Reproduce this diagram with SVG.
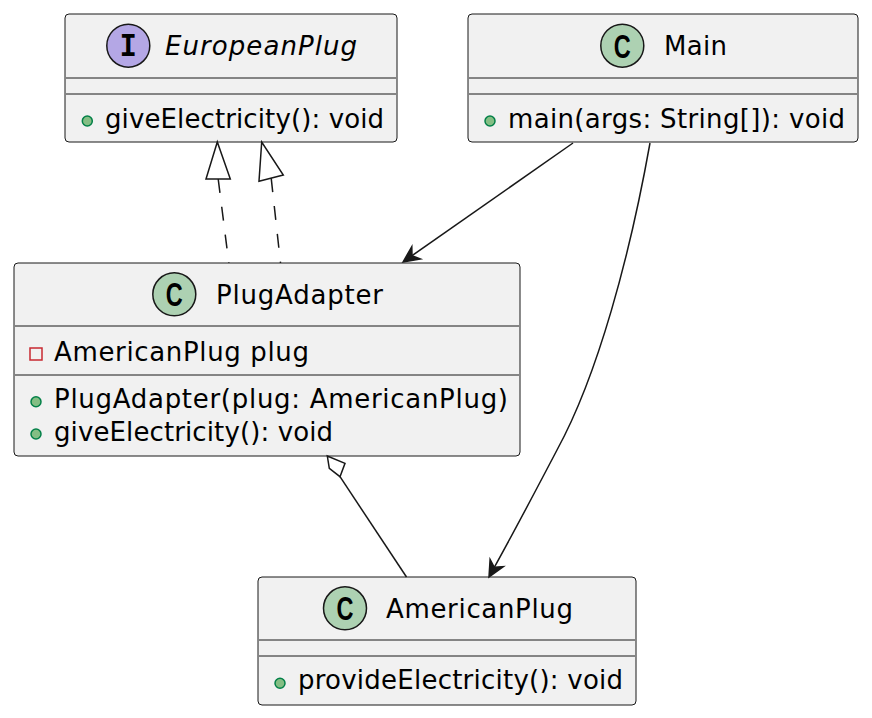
<svg xmlns="http://www.w3.org/2000/svg" width="872" height="718" viewBox="0 0 872 718">
<style>
.box{fill:#F1F1F1;stroke:#181818;stroke-width:1}
.sep{stroke:#181818;stroke-width:1}
.t{font-family:"DejaVu Sans",sans-serif;font-size:26px;fill:#000}
.it{font-style:italic}
.cc{fill:#ADD1B2;stroke:#181818;stroke-width:1.5}
.ic{fill:#B4A7E5;stroke:#181818;stroke-width:1.5}
.glyph{font-family:"Liberation Sans",sans-serif;font-weight:bold;font-size:33px;fill:#000}
.pub{fill:#84BE84;stroke:#038048;stroke-width:1.5}
.priv{fill:none;stroke:#C82930;stroke-width:1.5}
.ln{fill:none;stroke:#181818;stroke-width:1.5}
.dash{stroke-dasharray:14,14}
.head{fill:#181818;stroke:#181818;stroke-width:1.5;stroke-linejoin:miter}
.open{fill:none;stroke:#181818;stroke-width:1.5}
</style>
<rect width="872" height="718" fill="#FFFFFF"/>

<g id="EuropeanPlug">
<rect class="box" x="65" y="14" width="332" height="128" rx="4"/>
<circle class="ic" cx="128.3" cy="45.7" r="21.5"/>
<text class="glyph" x="128.3" y="56" text-anchor="middle" textLength="17" lengthAdjust="spacingAndGlyphs" style="font-family:'Liberation Mono',monospace;font-size:34px">I</text>
<text class="t it" x="165" y="55" textLength="192" lengthAdjust="spacing">EuropeanPlug</text>
<line class="sep" x1="66" y1="78" x2="396" y2="78"/>
<line class="sep" x1="66" y1="94" x2="396" y2="94"/>
<circle class="pub" cx="87.3" cy="121" r="5"/>
<text class="t" x="105" y="128" textLength="279" lengthAdjust="spacing">giveElectricity(): void</text>
</g>

<g id="Main">
<rect class="box" x="468" y="14" width="390" height="128" rx="4"/>
<circle class="cc" cx="622.3" cy="45.7" r="21.5"/>
<text class="glyph" x="622.3" y="57.5" text-anchor="middle" textLength="17" lengthAdjust="spacingAndGlyphs">C</text>
<text class="t" x="664" y="55" textLength="63" lengthAdjust="spacing">Main</text>
<line class="sep" x1="469" y1="78" x2="857" y2="78"/>
<line class="sep" x1="469" y1="94" x2="857" y2="94"/>
<circle class="pub" cx="490" cy="121" r="5"/>
<text class="t" x="508" y="128" textLength="337" lengthAdjust="spacing">main(args: String[]): void</text>
</g>

<g id="PlugAdapter">
<rect class="box" x="14" y="263" width="506" height="193" rx="4"/>
<circle class="cc" cx="174.3" cy="294.3" r="21.5"/>
<text class="glyph" x="174.3" y="306.1" text-anchor="middle" textLength="17" lengthAdjust="spacingAndGlyphs">C</text>
<text class="t" x="216" y="304" textLength="167" lengthAdjust="spacing">PlugAdapter</text>
<line class="sep" x1="15" y1="326" x2="519" y2="326"/>
<rect class="priv" x="30" y="348" width="12" height="12"/>
<text class="t" x="54" y="361" textLength="255" lengthAdjust="spacing">AmericanPlug plug</text>
<line class="sep" x1="15" y1="375" x2="519" y2="375"/>
<circle class="pub" cx="36" cy="401.7" r="5"/>
<text class="t" x="54" y="408" textLength="454" lengthAdjust="spacing">PlugAdapter(plug: AmericanPlug)</text>
<circle class="pub" cx="36" cy="434" r="5"/>
<text class="t" x="54" y="441" textLength="279" lengthAdjust="spacing">giveElectricity(): void</text>
</g>

<g id="AmericanPlug">
<rect class="box" x="258" y="577" width="378" height="128" rx="4"/>
<circle class="cc" cx="345" cy="608.3" r="21.5"/>
<text class="glyph" x="345" y="620.1" text-anchor="middle" textLength="17" lengthAdjust="spacingAndGlyphs">C</text>
<text class="t" x="386" y="618" textLength="187" lengthAdjust="spacing">AmericanPlug</text>
<line class="sep" x1="259" y1="640" x2="635" y2="640"/>
<line class="sep" x1="259" y1="656" x2="635" y2="656"/>
<circle class="pub" cx="280" cy="683.3" r="5"/>
<text class="t" x="298" y="689" textLength="325" lengthAdjust="spacing">provideElectricity(): void</text>
</g>

<g id="connectors">
<line class="ln dash" x1="218.2" y1="179" x2="228.8" y2="263"/>
<polygon class="open" points="217.3,142 206,179 230.3,179"/>
<line class="ln dash" x1="271.2" y1="178.2" x2="280.5" y2="263"/>
<polygon class="open" points="261.7,142 259,181.3 283.3,175"/>
<line class="ln" x1="573" y1="143" x2="412" y2="255.7"/>
<polygon class="head" points="403,262 411.8,246.7 412,255.7 420.4,258.9"/>
<path class="ln" d="M650,143 C630,255 598,375 557,450 C535,492 515,530 494.3,567.3"/>
<polygon class="head" points="489,577 490.1,559.4 494.3,567.3 503.3,566.6"/>
<line class="ln" x1="340" y1="476.7" x2="406.5" y2="577"/>
<polygon class="open" points="327.3,456 329.3,468.3 340,476.7 345,463.3" style="fill:#FFFFFF"/>
</g>
</svg>
